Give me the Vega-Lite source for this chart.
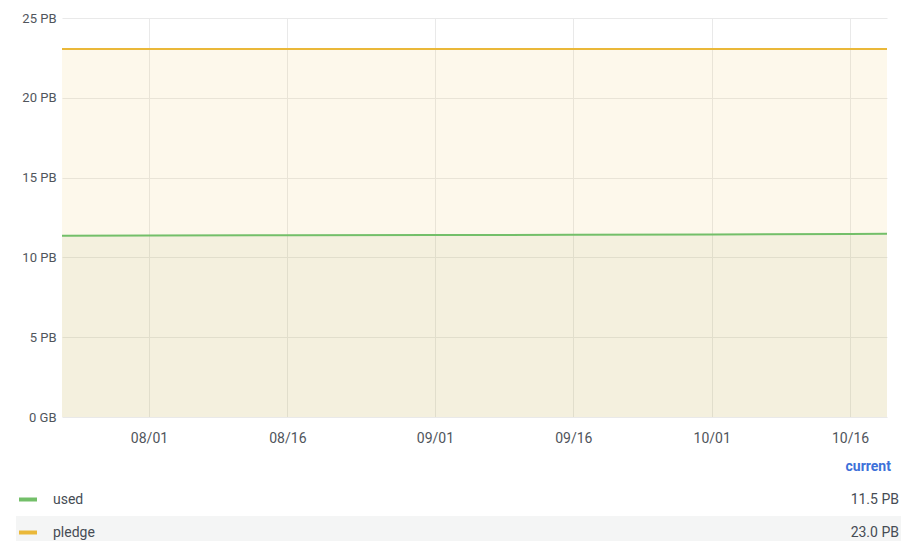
{
  "$schema": "https://vega.github.io/schema/vega-lite/v6.json",
  "padding": {"left": 15, "top": 12, "right": 0, "bottom": 0},
  "background": "white",
  "config": {
    "view": {"stroke": null},
    "font": "Roboto",
    "axis": {"labelFont": "Roboto", "labelColor": "#50555c", "domain": false, "ticks": false, "gridColor": "#e9e9e9", "gridWidth": 1}
  },
  "datasets": {
    "series": [
      {"date": "2023-07-22T13:40:00Z", "series": "used", "value": 11.36},
      {"date": "2023-08-01T00:00:00Z", "series": "used", "value": 11.37},
      {"date": "2023-08-16T00:00:00Z", "series": "used", "value": 11.39},
      {"date": "2023-09-01T00:00:00Z", "series": "used", "value": 11.40},
      {"date": "2023-09-16T00:00:00Z", "series": "used", "value": 11.42},
      {"date": "2023-10-01T00:00:00Z", "series": "used", "value": 11.43},
      {"date": "2023-10-16T00:00:00Z", "series": "used", "value": 11.47},
      {"date": "2023-10-20T00:00:00Z", "series": "used", "value": 11.48},
      {"date": "2023-07-22T13:40:00Z", "series": "pledge", "value": 23.05},
      {"date": "2023-08-01T00:00:00Z", "series": "pledge", "value": 23.05},
      {"date": "2023-08-16T00:00:00Z", "series": "pledge", "value": 23.05},
      {"date": "2023-09-01T00:00:00Z", "series": "pledge", "value": 23.05},
      {"date": "2023-09-16T00:00:00Z", "series": "pledge", "value": 23.05},
      {"date": "2023-10-01T00:00:00Z", "series": "pledge", "value": 23.05},
      {"date": "2023-10-16T00:00:00Z", "series": "pledge", "value": 23.05},
      {"date": "2023-10-20T00:00:00Z", "series": "pledge", "value": 23.05}
    ],
    "legend": [
      {"row": "header", "name": "", "current": "current"},
      {"row": "used", "name": "used", "current": "11.5 PB"},
      {"row": "pledge", "name": "pledge", "current": "23.0 PB"}
    ]
  },
  "columns": 1,
  "align": "none",
  "spacing": 5,
  "concat": [
    {
      "width": 825,
      "height": 399,
      "data": {"name": "series"},
      "encoding": {
        "x": {
          "field": "date", "type": "temporal",
          "scale": {"type": "utc", "domain": ["2023-07-22T13:40:00Z", "2023-10-20T00:00:00Z"]},
          "axis": {"title": null, "labelFontSize": 14, "labelPadding": 14,
            "labelExpr": "utcFormat(datum.value, '%m/%d')",
            "values": ["2023-08-01T00:00:00Z", "2023-08-16T00:00:00Z", "2023-09-01T00:00:00Z", "2023-09-16T00:00:00Z", "2023-10-01T00:00:00Z", "2023-10-16T00:00:00Z"]}
        },
        "y": {
          "field": "value", "type": "quantitative",
          "scale": {"domain": [0, 25], "nice": false},
          "axis": {"title": null, "values": [0, 5, 10, 15, 20, 25], "labelFontSize": 13, "labelPadding": 6, "minExtent": 46, "maxExtent": 46,
            "labelExpr": "datum.value == 0 ? '0 GB' : datum.value + ' PB'"}
        },
        "color": {
          "field": "series", "type": "nominal",
          "scale": {"domain": ["used", "pledge"], "range": ["#73BF69", "#EAB839"]},
          "legend": null
        }
      },
      "layer": [
        {"transform": [{"filter": "datum.series == 'pledge'"}], "mark": {"type": "area", "fillOpacity": 0.1}},
        {"transform": [{"filter": "datum.series == 'used'"}], "mark": {"type": "area", "fill": "#8a9a4a", "fillOpacity": 0.08}},
        {"mark": {"type": "line", "strokeWidth": 2}}
      ]
    },
    {
      "width": 825,
      "height": 99,
      "data": {"name": "legend"},
      "encoding": {
        "y": {"field": "row", "type": "nominal", "scale": {"domain": ["header", "used", "pledge"], "paddingInner": 0, "paddingOuter": 0}, "axis": null}
      },
      "layer": [
        {
          "transform": [{"filter": "datum.row == 'pledge'"}],
          "mark": {"type": "bar", "color": "#f4f5f5", "height": {"band": 1}, "clip": false},
          "encoding": {
            "x": {"datum": -0.0558, "type": "quantitative", "scale": {"domain": [0, 1]}, "axis": null},
            "x2": {"datum": 1.0170}
          }
        },
        {
          "transform": [{"filter": "datum.row != 'header'"}],
          "mark": {"type": "rule", "strokeWidth": 4},
          "encoding": {
            "x": {"datum": -0.0521, "type": "quantitative"},
            "x2": {"datum": -0.0303},
            "color": {"field": "name", "type": "nominal", "scale": {"domain": ["used", "pledge"], "range": ["#73BF69", "#EAB839"]}, "legend": null}
          }
        },
        {
          "transform": [{"filter": "datum.row != 'header'"}],
          "mark": {"type": "text", "align": "left", "font": "Roboto", "fontSize": 14, "color": "#464c54"},
          "encoding": {"x": {"datum": -0.0109, "type": "quantitative"}, "text": {"field": "name"}}
        },
        {
          "transform": [{"filter": "datum.row != 'header'"}],
          "mark": {"type": "text", "align": "right", "font": "Roboto", "fontSize": 14, "color": "#464c54"},
          "encoding": {"x": {"datum": 1.0145, "type": "quantitative"}, "text": {"field": "current"}}
        },
        {
          "transform": [{"filter": "datum.row == 'header'"}],
          "mark": {"type": "text", "align": "right", "font": "Roboto", "fontSize": 14, "fontWeight": "bold", "color": "#3d71d9"},
          "encoding": {"x": {"datum": 1.0048, "type": "quantitative"}, "text": {"field": "current"}}
        }
      ]
    }
  ]
}
